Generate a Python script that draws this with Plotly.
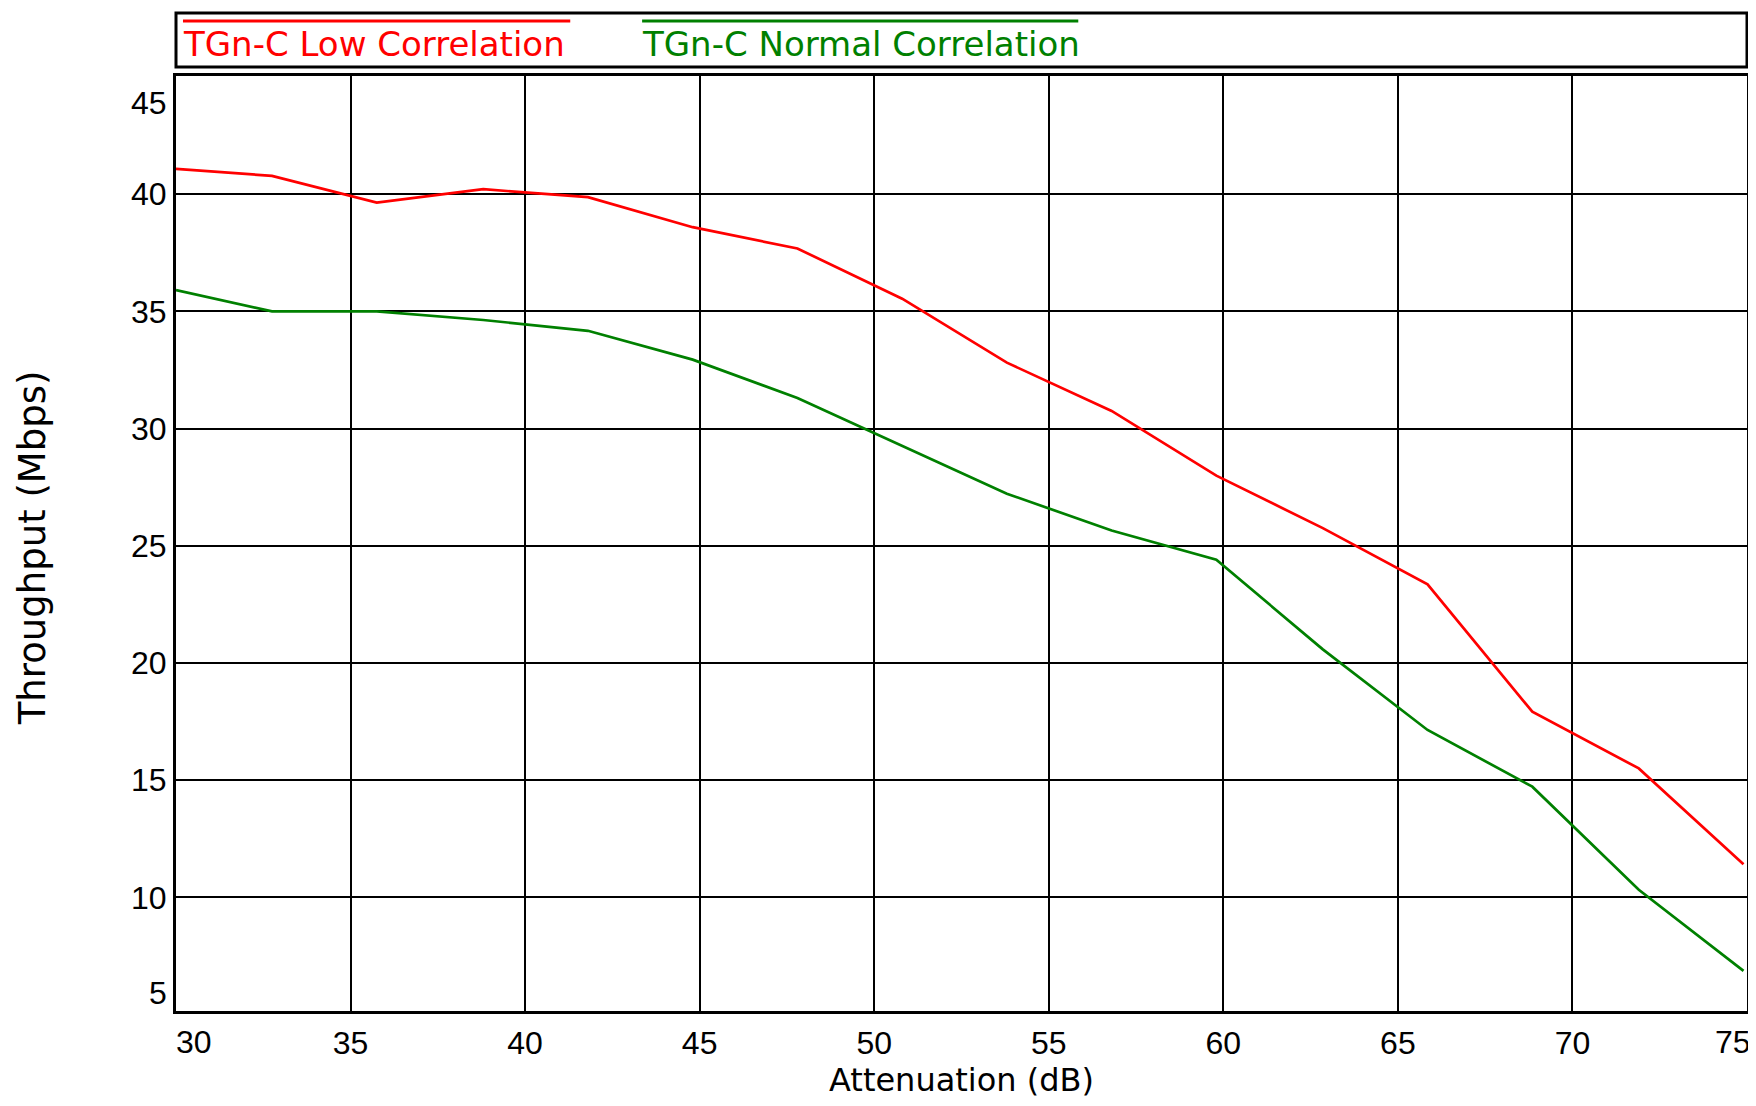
import plotly.graph_objects as go

# ---- data ----
attenuation_db = [30, 32.75, 35.75, 38.8, 41.8, 44.8, 47.8, 50.8, 53.8, 56.8, 59.8, 62.85, 65.85, 68.85, 71.9, 74.9]
low_corr = [41.08, 40.78, 39.64, 40.21, 39.87, 38.59, 37.68, 35.54, 32.81, 30.75, 27.99, 25.75, 23.35, 17.92, 15.50, 11.41]
normal_corr = [35.91, 35.0, 35.0, 34.63, 34.17, 32.94, 31.30, 29.27, 27.22, 25.65, 24.40, 20.58, 17.14, 14.72, 10.32, 6.86]

series_names = ["TGn-C Low Correlation", "TGn-C Normal Correlation"]
series_colors = ["#FF0000", "#008000"]

x_ticks = [35, 40, 45, 50, 55, 60, 65, 70]
y_ticks = [10, 15, 20, 25, 30, 35, 40]
x_range = [30, 75]
y_range = [5.15, 45.04]

x_title = "Attenuation (dB)"
y_title = "Throughput (Mbps)"

TICK_FONT = "Liberation Sans, Arial, sans-serif"
TEXT_FONT = "DejaVu Sans, Liberation Sans, sans-serif"

# page body has an 8px margin; lay the figure out in window coordinates minus it
OFF = 8
W, H = 1744, 1090
PL, PT, PR, PB = 176, 76, 1750, 1011   # plot-area edges in window pixels
ML, MT = PL - OFF, PT - OFF
MR = W - (PR - OFF)
MB = H - (PB - OFF)
PW = PR - PL
PH = PB - PT


def px_to_paper_x(px):
    return (px - PL) / PW


def px_to_paper_y(py):
    return (PB - py) / PH


fig = go.Figure()
for name, vals, col in zip(series_names, [low_corr, normal_corr], series_colors):
    fig.add_trace(go.Scatter(x=attenuation_db, y=vals, mode="lines", name=name,
                             line=dict(color=col, width=2.7), showlegend=False))

fig.update_layout(
    width=W, height=H,
    margin=dict(l=ML, r=MR, t=MT, b=MB, pad=0),
    paper_bgcolor="white", plot_bgcolor="white",
    xaxis=dict(range=x_range, tickvals=x_ticks, ticktext=[str(v) for v in x_ticks],
               showgrid=True, gridcolor="black", gridwidth=2,
               showline=True, linecolor="black", linewidth=3, mirror=True,
               ticks="", zeroline=False, ticklabelstandoff=2,
               tickfont=dict(family=TICK_FONT, size=32, color="black")),
    yaxis=dict(range=y_range, tickvals=y_ticks, ticktext=[str(v) for v in y_ticks],
               showgrid=True, gridcolor="black", gridwidth=2,
               showline=True, linecolor="black", linewidth=3, mirror=True,
               ticks="", zeroline=False, ticklabelstandoff=0,
               tickfont=dict(family=TICK_FONT, size=32, color="black")),
)

annotations = []
# edge tick labels, pulled inward as in the reference
annotations.append(dict(x=30.51, y=px_to_paper_y(1042), xref="x", yref="paper", text="30",
                        showarrow=False, xanchor="center", yanchor="middle",
                        font=dict(family=TICK_FONT, size=32, color="black")))
annotations.append(dict(x=74.6, y=px_to_paper_y(1042), xref="x", yref="paper", text="75",
                        showarrow=False, xanchor="center", yanchor="middle",
                        font=dict(family=TICK_FONT, size=32, color="black")))
annotations.append(dict(x=px_to_paper_x(169), y=43.9, xref="paper", yref="y", text="45",
                        showarrow=False, xanchor="right", yanchor="middle",
                        font=dict(family=TICK_FONT, size=32, color="black")))
annotations.append(dict(x=px_to_paper_x(169), y=5.92, xref="paper", yref="y", text="5",
                        showarrow=False, xanchor="right", yanchor="middle",
                        font=dict(family=TICK_FONT, size=32, color="black")))
# axis titles
annotations.append(dict(x=0.5, y=px_to_paper_y(1080), xref="paper", yref="paper", text=x_title,
                        showarrow=False, xanchor="center", yanchor="middle",
                        font=dict(family=TEXT_FONT, size=32, color="black")))
annotations.append(dict(x=px_to_paper_x(32), y=px_to_paper_y(548), xref="paper", yref="paper", text=y_title,
                        showarrow=False, xanchor="center", yanchor="middle", textangle=-90,
                        font=dict(family=TEXT_FONT, size=37, color="black")))

# custom legend: box with a line over each label
shapes = [dict(type="rect", xref="paper", yref="paper",
               x0=0, x1=1, y0=px_to_paper_y(67), y1=px_to_paper_y(13),
               line=dict(color="black", width=3), fillcolor="white")]
legend_x = [(183, 571), (643, 1080)]
for (x0, x1), name, col in zip(legend_x, series_names, series_colors):
    shapes.append(dict(type="line", xref="paper", yref="paper",
                       x0=px_to_paper_x(x0), x1=px_to_paper_x(x1),
                       y0=px_to_paper_y(21), y1=px_to_paper_y(21),
                       line=dict(color=col, width=3)))
    annotations.append(dict(x=px_to_paper_x(x0 - 2), y=px_to_paper_y(44), xref="paper", yref="paper",
                            text=name, showarrow=False, xanchor="left", yanchor="middle",
                            font=dict(family=TEXT_FONT, size=34, color=col)))

fig.update_layout(annotations=annotations, shapes=shapes)
fig.write_html("out.html")
